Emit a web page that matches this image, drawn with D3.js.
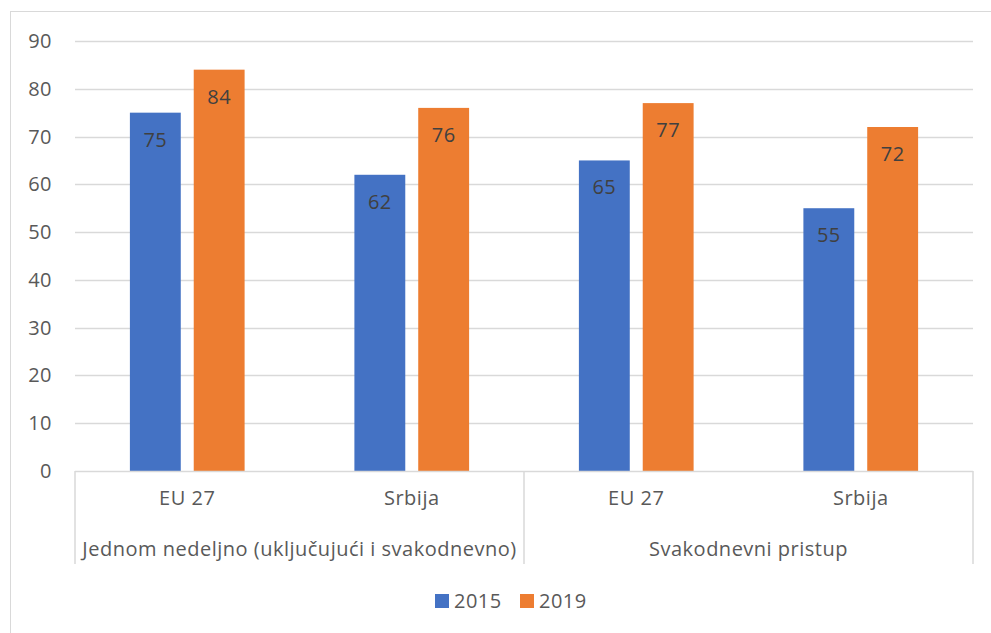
<!DOCTYPE html>
<html><head><meta charset="utf-8">
<script src="https://cdn.jsdelivr.net/npm/d3@7"></script>
<style>body{margin:0;background:#fff}svg{display:block}text{font-family:"Open Sans","Noto Sans",sans-serif;letter-spacing:0.5px}</style>
</head><body>
<svg id="c" width="991" height="633"></svg>
<script>
const groups = ["Jednom nedeljno (uključujući i svakodnevno)", "Svakodnevni pristup"];
const categories = ["EU 27", "Srbija", "EU 27", "Srbija"];
const seriesNames = ["2015", "2019"];
const values2015 = [75, 62, 65, 55];
const values2019 = [84, 76, 77, 72];
const yTicks = [0, 10, 20, 30, 40, 50, 60, 70, 80, 90];
const colors = ["#4472C4", "#ED7D31"];

const svg = d3.select("#c");
const L = 75, R = 973, T = 41, B = 471;
const FS = 20;
svg.append("rect").attr("x", 10.5).attr("y", 11.5).attr("width", 1000).attr("height", 1000)
  .attr("fill", "none").attr("stroke", "#D9D9D9");

const y = d3.scaleLinear().domain([0, 90]).range([B, T]);
const x = d3.scaleBand().domain(d3.range(categories.length)).range([L, R]).paddingInner(0).paddingOuter(0);
const inner = d3.scaleBand().domain(seriesNames).range([0, x.bandwidth()]).paddingInner(0.203).paddingOuter(0.86);

// gridlines
svg.append("g").selectAll("line").data(yTicks.slice(1)).join("line")
  .attr("x1", L).attr("x2", R).attr("y1", d => Math.round(y(d)) + 0.5).attr("y2", d => Math.round(y(d)) + 0.5)
  .attr("stroke", "#D9D9D9").attr("stroke-width", 1.3);
// y labels
svg.append("g").selectAll("text").data(yTicks).join("text")
  .attr("x", 52).attr("y", d => y(d)).attr("dy", "0.35em").attr("text-anchor", "end")
  .attr("font-size", FS).attr("fill", "#595959").text(d => d);

const data = [values2015, values2019];
data.forEach((vals, si) => {
  const g = svg.append("g");
  g.selectAll("rect").data(vals).join("rect")
    .attr("x", (d, i) => x(i) + inner(seriesNames[si]))
    .attr("width", inner.bandwidth())
    .attr("y", d => y(d)).attr("height", d => B - y(d))
    .attr("fill", colors[si]);
  g.selectAll("text").data(vals).join("text")
    .attr("x", (d, i) => x(i) + inner(seriesNames[si]) + inner.bandwidth() / 2)
    .attr("y", d => y(d) + 27).attr("dy", "0.35em").attr("text-anchor", "middle")
    .attr("font-size", FS).attr("fill", "#404040").text(d => d);
});

// category axis
const ax = svg.append("g").attr("stroke", "#D9D9D9").attr("stroke-width", 1.5);
ax.append("line").attr("x1", L).attr("x2", R).attr("y1", B + 0.5).attr("y2", B + 0.5);
[L, (L + R) / 2, R].forEach(xx => ax.append("line").attr("x1", xx).attr("x2", xx).attr("y1", B).attr("y2", 564));
svg.append("g").selectAll("text").data(categories).join("text")
  .attr("x", (d, i) => x(i) + x.bandwidth() / 2).attr("y", 498).attr("dy", "0.35em")
  .attr("text-anchor", "middle").attr("font-size", FS).attr("fill", "#595959").text(d => d);
svg.append("g").selectAll("text").data(groups).join("text")
  .attr("x", (d, gi) => L + (R - L) / 4 + gi * (R - L) / 2).attr("y", 549).attr("dy", "0.35em")
  .attr("text-anchor", "middle").attr("font-size", FS).attr("fill", "#595959").text(d => d);

// legend
const legX = [435, 520];
seriesNames.forEach((s, i) => {
  svg.append("rect").attr("x", legX[i]).attr("y", 594).attr("width", 14).attr("height", 14).attr("fill", colors[i]);
  svg.append("text").attr("x", legX[i] + 19).attr("y", 601).attr("dy", "0.35em")
    .attr("font-size", FS).attr("fill", "#595959").text(s);
});
</script>
</body></html>
